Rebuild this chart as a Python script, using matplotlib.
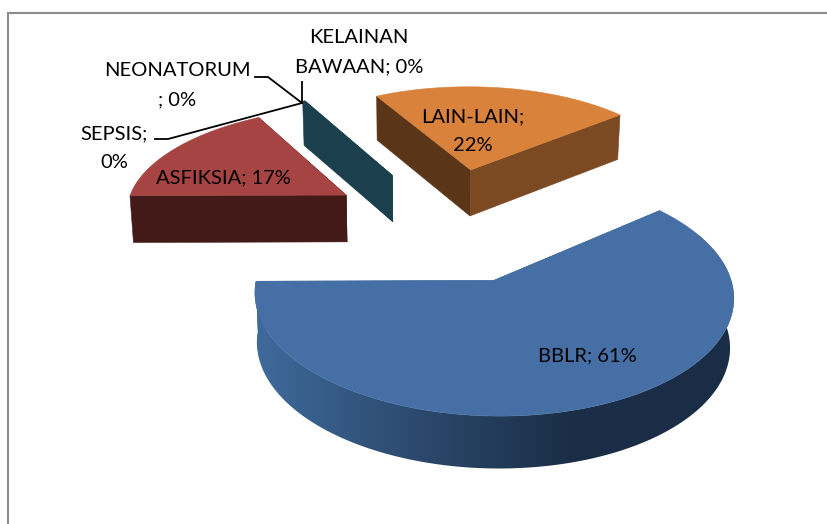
import numpy as np
import matplotlib
matplotlib.use("Agg")
import matplotlib.pyplot as plt
from matplotlib.colors import LinearSegmentedColormap
from matplotlib.patches import Polygon

plt.rcParams["font.family"] = ["Lato", "DejaVu Sans"]

CATEGORIES = ["BBLR", "ASFIKSIA", "SEPSIS", "NEONATORUM", "KELAINAN\nBAWAAN", "LAIN-LAIN"]
VALUES = [60.9, 16.9, 0.0, 0.0, 0.2, 22.0]
SEPARATORS = ["; ", "; ", ";\n", "\n; ", "; ", ";\n"]

TOP_COLORS = ["#4670a5", "#a54442", "#7f60a0", "#3c9ab0", "#1b404d", "#d8823c"]
START_ANGLE = 39.6

# pseudo 3d projection, fitted by eye
CX, CY = 449, 223
RX, RY = 223, 104.5
PERSP = 0.118
EXPLODE = 0.55
DEPTH = 47.5
SHRINK = 0.012
SHRINK_X0 = 420

LABEL_POS = {
    "BBLR": (587, 356),
    "ASFIKSIA": (223, 178),
    "SEPSIS": (114, 148),
    "NEONATORUM": (177, 85),
    "KELAINAN\nBAWAAN": (359, 52),
    "LAIN-LAIN": (473, 131),
}
LEADERS = [
    ([155, 168, 302], [139, 139, 103]),
    ([255, 268, 302], [77, 77, 103]),
    ([302, 302], [82, 103]),
]

BLUE_SIDE = LinearSegmentedColormap.from_list("blue_side", ["#3f6b9c", "#2c4a6e", "#1a2d46", "#1a2d46"])


def project(u, v, lower=False):
    s = 1.0 / (1.0 + PERSP * v)
    x = CX + RX * u * s
    y = CY - RY * v * s
    if lower:
        y = y + DEPTH * np.sqrt(s)
        x = x + (SHRINK_X0 - x) * SHRINK
    return np.column_stack([x, y])


def wall(ax, u, v, color, z):
    top = project(u, v)
    bot = project(u, v, lower=True)
    ax.add_patch(Polygon(np.vstack([top, bot[::-1]]), closed=True, facecolor=color, edgecolor=color, linewidth=0.4, zorder=z))


def draw_wedge(ax, a0, a1, top_color, first_wall, last_wall, rim_cmap, z):
    # a0 > a1, clockwise, degrees
    mid = np.radians((a0 + a1) / 2)
    ou, ov = EXPLODE * np.cos(mid), EXPLODE * np.sin(mid)
    t = np.radians(np.linspace(a0, a1, max(int(a0 - a1) * 2, 2)))
    ru = ou + np.cos(t)
    rv = ov + np.sin(t)

    wall(ax, np.array([ou, ru[0]]), np.array([ov, rv[0]]), first_wall, z)
    wall(ax, np.array([ou, ru[-1]]), np.array([ov, rv[-1]]), last_wall, z + 0.1)

    if rim_cmap is not None:
        keep = np.sin(t) < 0.4
        top = project(ru[keep], rv[keep])
        bot = project(ru[keep], rv[keep], lower=True)
        rim = Polygon(np.vstack([top, bot[::-1]]), closed=True, facecolor="none", edgecolor="none", zorder=z + 0.2)
        ax.add_patch(rim)
        x0, x1 = top[:, 0].min() - 2, top[:, 0].max() + 2
        y0, y1 = top[:, 1].min() - 2, bot[:, 1].max() + 2
        img = ax.imshow(np.linspace(0, 1, 256)[None, :], cmap=rim_cmap, extent=(x0, x1, y1, y0), aspect="auto", zorder=z + 0.2)
        img.set_clip_path(rim)

    outline = project(np.r_[ou, ru], np.r_[ov, rv])
    ax.add_patch(Polygon(outline, closed=True, facecolor=top_color, edgecolor=top_color, linewidth=0.4, zorder=z + 0.5))


fig = plt.figure(figsize=(8.27, 5.24), dpi=100, facecolor="white")
ax = fig.add_axes([0, 0, 1, 1])
ax.set_axis_off()

# chart frame only shows on the top and left
ax.plot([8, 8, 827], [524, 13, 13], color="#8c8c8c", linewidth=1.5, zorder=0, solid_joinstyle="miter")

angles = START_ANGLE - np.r_[0, np.cumsum(VALUES)] * 3.6
styles = {
    "BBLR": ("#3f6b9c", "#3f6b9c", BLUE_SIDE, 4),
    "ASFIKSIA": ("#431a18", "#431a18", None, 3),
    "KELAINAN\nBAWAAN": ("#1b3f4c", "#1b3f4c", None, 2),
    "LAIN-LAIN": ("#5a3518", "#7c4a22", None, 1),
}
for i, name in enumerate(CATEGORIES):
    if VALUES[i] <= 0:
        continue
    first_wall, last_wall, rim, z = styles[name]
    draw_wedge(ax, angles[i], angles[i + 1], TOP_COLORS[i], first_wall, last_wall, rim, z)

for xs, ys in LEADERS:
    ax.plot(xs, ys, color="black", linewidth=1.3, zorder=8, solid_joinstyle="miter")

for name, val, sep in zip(CATEGORIES, VALUES, SEPARATORS):
    x, y = LABEL_POS[name]
    ax.text(x, y, f"{name}{sep}{round(val)}%", ha="center", va="center", fontsize=14.5,
            linespacing=1.85, color="black", zorder=9)

ax.set_xlim(0, 827)
ax.set_ylim(524, 0)
fig.savefig("out.png", dpi=100, facecolor="white")
plt.close(fig)
